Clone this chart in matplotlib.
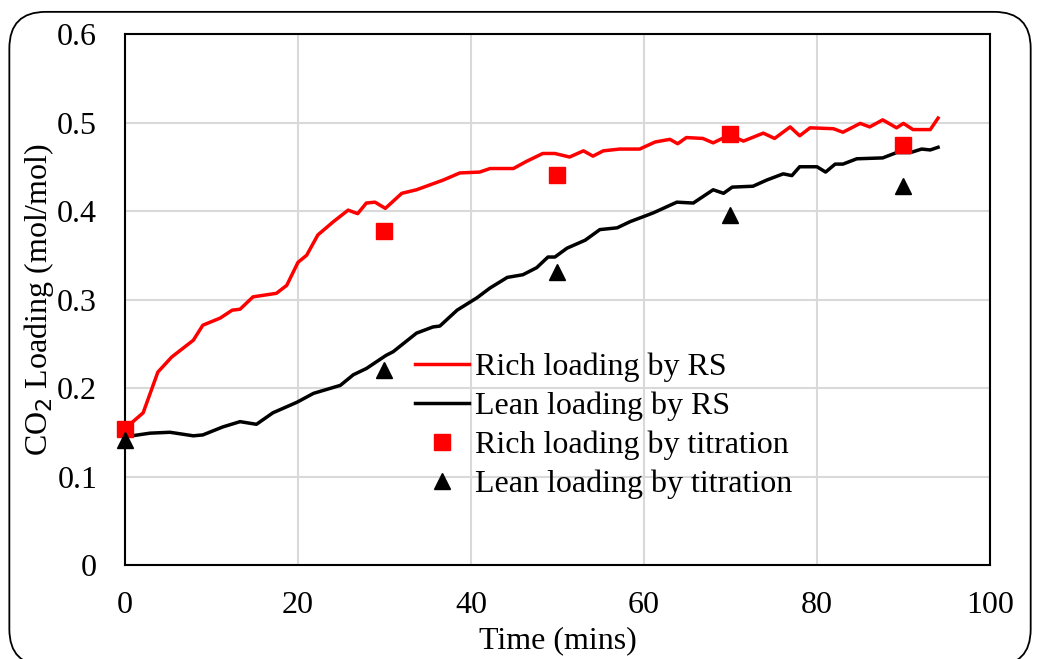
import matplotlib.pyplot as plt
from matplotlib.patches import FancyBboxPatch

plt.rcParams['font.family'] = ['Liberation Serif', 'DejaVu Serif']

# Rich loading by RS (red line)
rich_t = [0.1, 2.1, 3.8, 5.4, 7.9, 9.0, 11.0, 12.4, 13.3, 14.8, 17.5, 18.7, 20.0, 21.0,
          22.3, 24.1, 25.8, 26.9, 27.9, 28.9, 30.1, 32.0, 33.7, 36.8, 38.7, 41.0, 42.2,
          44.9, 46.4, 48.3, 49.7, 51.4, 53.0, 54.1, 55.3, 57.2, 59.5, 61.3, 63.0, 63.9,
          64.9, 66.8, 68.0, 69.9, 71.5, 73.8, 75.1, 76.9, 78.0, 79.2, 81.9, 83.0, 85.0,
          86.1, 87.6, 89.2, 90.0, 91.1, 93.1, 94.0]
rich_y = [0.155, 0.172, 0.218, 0.235, 0.254, 0.271, 0.279, 0.288, 0.289, 0.303, 0.307, 0.316,
          0.342, 0.350, 0.373, 0.388, 0.401, 0.397, 0.409, 0.410, 0.403, 0.420, 0.424, 0.435,
          0.443, 0.444, 0.448, 0.448, 0.456, 0.465, 0.465, 0.461, 0.468, 0.462, 0.468, 0.470,
          0.470, 0.478, 0.481, 0.476, 0.483, 0.482, 0.477, 0.486, 0.479, 0.488, 0.482, 0.495,
          0.485, 0.494, 0.493, 0.489, 0.499, 0.495, 0.503, 0.494, 0.499, 0.492, 0.492, 0.505]

# Lean loading by RS (black line)
lean_t = [0.1, 2.9, 5.2, 7.9, 9.0, 11.3, 13.3, 15.2, 17.1, 19.9, 21.8, 24.9, 26.4, 27.9,
          30.2, 31.0, 33.7, 35.6, 36.4, 38.4, 40.7, 42.2, 44.2, 46.0, 47.6, 48.9, 49.7,
          51.1, 53.2, 54.9, 56.9, 58.4, 60.3, 61.1, 63.8, 65.7, 68.0, 69.2, 70.2, 72.6,
          74.2, 76.1, 77.1, 78.0, 80.0, 81.0, 82.1, 83.0, 84.6, 87.6, 89.2, 90.8, 92.1,
          93.1, 94.0]
lean_y = [0.145, 0.149, 0.150, 0.146, 0.147, 0.156, 0.162, 0.159, 0.172, 0.184, 0.194, 0.203,
          0.215, 0.222, 0.237, 0.241, 0.262, 0.269, 0.270, 0.288, 0.302, 0.313, 0.325, 0.328,
          0.336, 0.348, 0.348, 0.358, 0.367, 0.379, 0.381, 0.388, 0.395, 0.398, 0.410, 0.409,
          0.424, 0.420, 0.427, 0.428, 0.435, 0.442, 0.440, 0.450, 0.450, 0.444, 0.453, 0.453,
          0.459, 0.460, 0.466, 0.466, 0.470, 0.469, 0.472]

# Titration samples
tit_t = [0, 30, 50, 70, 90]
rich_tit = [0.154, 0.377, 0.441, 0.487, 0.475]
lean_tit = [0.141, 0.220, 0.331, 0.395, 0.428]

FS = 23

fig = plt.figure(figsize=(10.39, 6.59), dpi=100)
ax = fig.add_axes([0.1203, 0.1426, 0.8325, 0.8058])

# rounded outer border
fig.patches.append(FancyBboxPatch((0.009, -0.01), 0.983, 0.992,
                                  boxstyle="round,pad=0,rounding_size=0.035",
                                  transform=fig.transFigure, facecolor='none',
                                  edgecolor='black', linewidth=1.3, mutation_aspect=1.58))

ax.plot(rich_t, rich_y, color='#ff0000', lw=2.5, label='Rich loading by RS', zorder=3,
        solid_joinstyle='round')
ax.plot(lean_t, lean_y, color='black', lw=2.5, label='Lean loading by RS', zorder=3,
        solid_joinstyle='round')
ax.plot(tit_t, rich_tit, 's', color='#ff0000', ms=11, label='Rich loading by titration',
        zorder=4, clip_on=False)
ax.plot(tit_t, lean_tit, '^', color='black', ms=11, label='Lean loading by titration',
        zorder=4, clip_on=False)

ax.set_xlim(0, 100)
ax.set_ylim(0, 0.6)
ax.set_xticks([0, 20, 40, 60, 80, 100])
ax.set_yticks([0, 0.1, 0.2, 0.3, 0.4, 0.5, 0.6])
ax.set_yticklabels(['0', '0.1', '0.2', '0.3', '0.4', '0.5', '0.6'])
ax.grid(True, color='#d9d9d9', lw=1.5)
ax.set_axisbelow(True)
ax.tick_params(length=0, labelsize=FS)
ax.tick_params(axis='y', pad=20)
ax.tick_params(axis='x', pad=19)
for s in ax.spines.values():
    s.set_linewidth(1.5)
    s.set_color('black')

ax.set_xlabel('Time (mins)', fontsize=FS, labelpad=4)
ax.set_ylabel('CO$_2$ Loading (mol/mol)', fontsize=FS, labelpad=1)

ax.legend(loc='upper left', bbox_to_anchor=(0.335, 0.40), frameon=False, fontsize=FS,
          handlelength=1.7, handletextpad=0.2, labelspacing=0.3, borderpad=0,
          borderaxespad=0)

fig.savefig('out.png', dpi=100)
